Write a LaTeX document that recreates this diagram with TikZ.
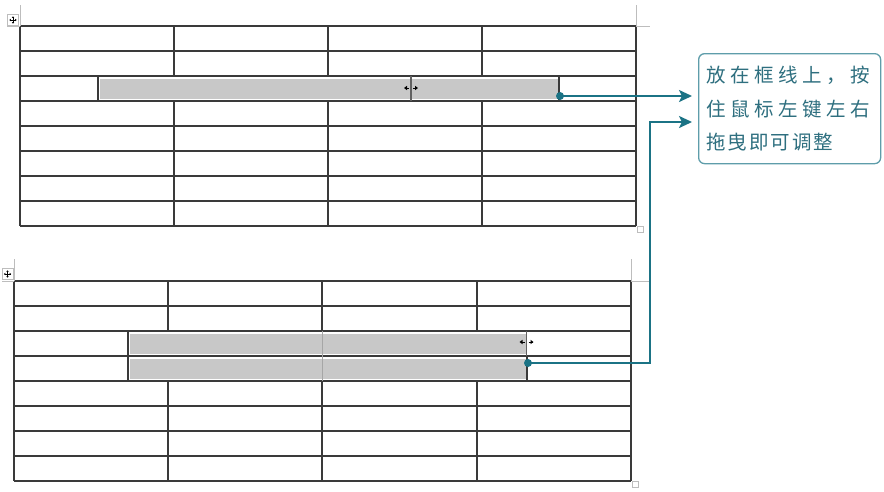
\documentclass[tikz,border=0pt]{standalone}
\usepackage{fontspec}
\newfontfamily\cjk{Noto Sans CJK SC}
\usetikzlibrary{arrows.meta}
\definecolor{gridc}{HTML}{3A3A3A}
\definecolor{cellgray}{HTML}{C8C8C8}
\definecolor{teal1}{HTML}{1B7385}
\definecolor{boxc}{HTML}{5E9DAA}
\definecolor{textc}{HTML}{2E6F7F}
\definecolor{markc}{HTML}{BDBDBD}
\tikzset{
  gridline/.style={draw=gridc, line width=1.2pt},
  selfill/.style={fill=cellgray, draw=none},
  cornermark/.style={draw=markc, line width=1pt},
  conn/.style={draw=teal1, line width=2pt, -{Stealth[length=13pt,width=12pt,inset=3pt]}},
  dotc/.style={circle, fill=teal1, inner sep=0pt, minimum size=8pt},
  callout/.style={draw=boxc, line width=1.3pt, rounded corners=6pt, fill=white},
  cursorbar/.style={draw=gridc!80, line width=1.6pt},
}
\newcommand{\movehandle}[2]{%
  \draw[draw=markc, line width=0.8pt, fill=white] (#1,#2) rectangle ++(11,11);
  \draw[black, line width=0.6pt] (#1+2.5,#2+5.5) -- (#1+8.5,#2+5.5) (#1+5.5,#2+2.5) -- (#1+5.5,#2+8.5);
  \fill[black] (#1+1.8,#2+5.5) -- (#1+3.4,#2+4.3) -- (#1+3.4,#2+6.7) -- cycle
               (#1+9.2,#2+5.5) -- (#1+7.6,#2+4.3) -- (#1+7.6,#2+6.7) -- cycle
               (#1+5.5,#2+1.8) -- (#1+4.3,#2+3.4) -- (#1+6.7,#2+3.4) -- cycle
               (#1+5.5,#2+9.2) -- (#1+4.3,#2+7.6) -- (#1+6.7,#2+7.6) -- cycle;}
\newcommand{\sizecursor}[2]{%
  \draw[black, line width=0.8pt] (#1-6,#2) -- (#1-2,#2) (#1+2,#2) -- (#1+6,#2);
  \fill[black] (#1-7,#2) -- (#1-4,#2-2.2) -- (#1-4,#2+2.2) -- cycle
               (#1+7,#2) -- (#1+4,#2-2.2) -- (#1+4,#2+2.2) -- cycle;}
\begin{document}
\begin{tikzpicture}[x=1pt,y=-1pt]
\useasboundingbox[fill=white] (0,0) rectangle (884,491);

% ===== top table =====
\fill[selfill] (99.5,79) rectangle (558,98.5);
\foreach \k in {0,...,8} \draw[gridline] (20,26+25*\k) -- (636,26+25*\k);
\draw[gridline] (20,26) -- (20,226) (636,26) -- (636,226);
\foreach \x in {174,328,482} {
  \draw[gridline] (\x,26) -- (\x,76);
  \draw[gridline] (\x,101) -- (\x,226);
}
\draw[gridline] (98,76) -- (98,101) (559,76) -- (559,101);
\draw[cursorbar] (411,76) -- (411,101);
\sizecursor{411}{88}
% corner marks
\draw[cornermark] (20,5) -- (20,26) (7,26) -- (20,26);
\draw[cornermark] (636,5) -- (636,26) -- (650,26);
\draw[draw=markc, line width=0.8pt, fill=white] (637,226) rectangle (643,232);
\movehandle{7.5}{14.5}

% ===== bottom table =====
\fill[selfill] (129.5,334) rectangle (526,353.5);
\fill[selfill] (129.5,359) rectangle (526,378.5);
\foreach \k in {0,...,8} \draw[gridline] (14,281+25*\k) -- (631,281+25*\k);
\draw[gridline] (14,281) -- (14,481) (631,281) -- (631,481);
\foreach \x in {168,322,477} {
  \draw[gridline] (\x,281) -- (\x,331);
  \draw[gridline] (\x,381) -- (\x,481);
}
\draw[draw=gridc!45, line width=1pt] (322,331) -- (322,381);
\draw[gridline] (128,331) -- (128,381) (527,356) -- (527,381);
\draw[cursorbar] (526.5,331) -- (526.5,356);
\sizecursor{526.5}{342}
\draw[cornermark] (14,259) -- (14,281) (2,281) -- (14,281);
\draw[cornermark] (631,259) -- (631,281) -- (649,281);
\draw[draw=markc, line width=0.8pt, fill=white] (632,481) rectangle (638,487);
\movehandle{2}{268.5}

% ===== callout =====
\node[callout, minimum width=182pt, minimum height=110pt, anchor=north west, inner sep=0pt] (box) at (698,53) {};
\node[anchor=west, inner sep=0pt, text=textc, font=\cjk\fontsize{19.5}{22}\selectfont] (t1) at (706,75)
  {\hbox to 164pt{放\hfill 在\hfill 框\hfill 线\hfill 上\hfill ，\hfill 按}};
\node[anchor=west, inner sep=0pt, text=textc, font=\cjk\fontsize{19.5}{22}\selectfont] (t2) at (706,109)
  {\hbox to 164pt{住\hfill 鼠\hfill 标\hfill 左\hfill 键\hfill 左\hfill 右}};
\node[anchor=west, inner sep=0pt, text=textc, font=\cjk\fontsize{19.5}{22}\selectfont] (t3) at (706,142)
  {\hbox to 127pt{拖\hfill 曳\hfill 即\hfill 可\hfill 调\hfill 整}};

% ===== connectors =====
\coordinate (d1) at (560,96);
\coordinate (d2) at (528,363);
\coordinate (bend) at (650,363);
\node[dotc] (dot1) at (d1) {};
\node[dotc] (dot2) at (d2) {};
\draw[conn, shorten >=6pt] (dot1.center) -- (dot1.center -| box.west);
\coordinate (up) at (650,122);
\draw[conn, shorten >=6pt] (dot2.center) -- (bend) -- (up) -- (up -| box.west);
\end{tikzpicture}
\end{document}
